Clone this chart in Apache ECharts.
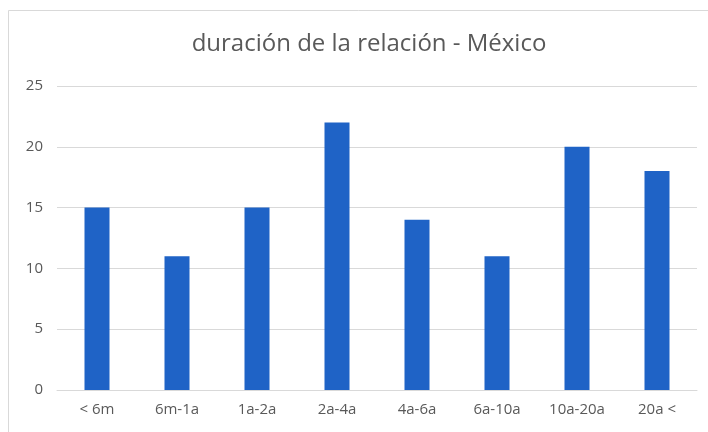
<!DOCTYPE html>
<html lang="es">
<head>
    <meta charset="utf-8">
    <title>duración de la relación - México</title>
    <script src="https://cdn.jsdelivr.net/npm/echarts@6.0.0/dist/echarts.min.js"></script>
    <style>
        html, body { margin: 0; padding: 0; background: #fff; }
        #main { width: 708px; height: 432px; }
    </style>
</head>
<body>
<div id="main"></div>
<script type="text/javascript">
    // categorías y valores
    var categorias = ['< 6m', '6m-1a', '1a-2a', '2a-4a', '4a-6a', '6a-10a', '10a-20a', '20a <'];
    var valores = [15, 11, 15, 22, 14, 11, 20, 18];
    var ticksY = [0, 5, 10, 15, 20, 25];

    var myChart = echarts.init(document.getElementById('main'));
    var gris = '#595959';
    var option = {
        animation: false,
        backgroundColor: '#fff',
        textStyle: { fontFamily: '"Open Sans", "Liberation Sans", sans-serif' },
        title: {
            text: 'duración de la relación - México',
            left: 364,
            textAlign: 'center',
            top: 27,
            textStyle: { fontSize: 24, fontWeight: 'normal', color: gris }
        },
        // marco del gráfico
        graphic: [{
            type: 'rect',
            shape: { x: 8.5, y: 10.5, width: 720, height: 440 },
            style: { fill: null, stroke: '#d9d9d9', lineWidth: 1 },
            silent: true
        }],
        grid: { left: 57, right: 11, top: 86, bottom: 42 },
        xAxis: {
            type: 'category',
            data: categorias,
            axisTick: { show: false },
            axisLine: { lineStyle: { color: '#d9d9d9' } },
            axisLabel: { color: gris, fontSize: 15, margin: 12 }
        },
        yAxis: {
            type: 'value',
            min: ticksY[0],
            max: ticksY[ticksY.length - 1],
            interval: 5,
            axisLine: { show: false },
            axisTick: { show: false },
            axisLabel: { color: gris, fontSize: 15, margin: 14 },
            splitLine: { lineStyle: { color: '#d9d9d9' } }
        },
        series: [{
            type: 'bar',
            data: valores,
            barWidth: 25,
            itemStyle: { color: '#1f63c6' }
        }]
    };
    myChart.setOption(option);
</script>
</body>
</html>
